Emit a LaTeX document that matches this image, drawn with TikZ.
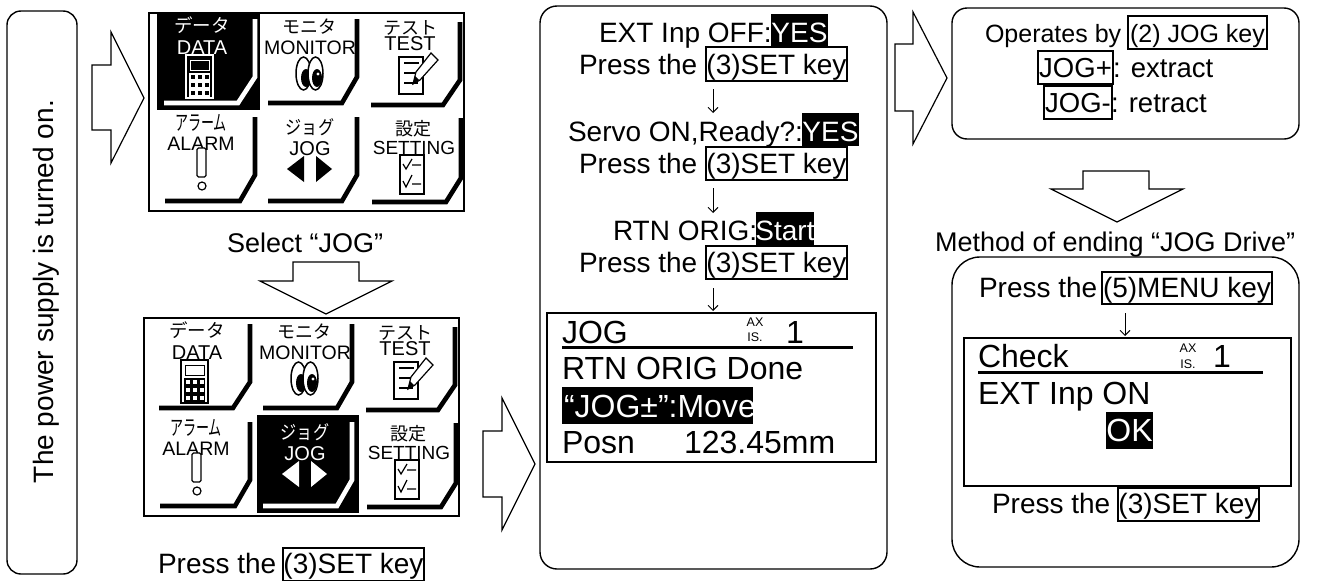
\documentclass[tikz,border=0pt]{standalone}
\usepackage{fontspec}
\setmainfont{Liberation Sans}
\newfontfamily\cjk{Noto Sans CJK JP}
\usetikzlibrary{arrows.meta}
\tikzset{
  fs/.style={font=\fontsize{#1}{#1}\selectfont},
  txt/.style={inner sep=0pt,outer sep=0pt,anchor=base west,fs=28},
  ctxt/.style={inner sep=0pt,outer sep=0pt,anchor=base,fs=#1},
  keyrect/.style={draw=black,line width=1.6pt,inner sep=0pt,outer sep=0pt,anchor=north west},
  invrect/.style={fill=black,inner sep=0pt,outer sep=0pt,anchor=north west},
  roundbox/.style={draw=black,line width=1.4pt,fill=white},
  screenbox/.style={draw=black,line width=1.6pt,fill=white},
  blockarrow/.style={draw=black,line width=1.2pt,fill=white,line join=miter},
  flowarrow/.style={draw=black,line width=0.9pt,-{Straight Barb[length=5pt,width=10pt]}},
  rule/.style={draw=black,line width=3pt},
  panelbox/.style={draw=black,line width=1.5pt,fill=white},
  cellframe/.style={draw=icfg,line width=4.6pt,line join=miter},
  icon/.style={draw=icfg,line width=1.2pt,fill=icbg},
}
% key caption: rectangle plus centred text
\newcommand\keyb[8][28]{%
  \pgfmathsetmacro\kbw{#5-#3}\pgfmathsetmacro\kbh{#6-#4}\pgfmathsetmacro\kbc{(#3+#5)/2}%
  \node[keyrect,minimum width=\kbw pt,minimum height=\kbh pt] (#2) at (#3,#4) {};%
  \node[ctxt=#1] (#2-t) at (\kbc,#7) {#8};}
\newcommand\invb[8][28]{%
  \pgfmathsetmacro\kbw{#5-#3}\pgfmathsetmacro\kbh{#6-#4}\pgfmathsetmacro\kbc{(#3+#5)/2}%
  \node[invrect,minimum width=\kbw pt,minimum height=\kbh pt] (#2) at (#3,#4) {};%
  \node[ctxt=#1,text=white] (#2-t) at (\kbc,#7) {#8};}
\newcommand\cellcol[2]{\ifnum#1=#2\relax\colorlet{icfg}{white}\colorlet{icbg}{black}\else\colorlet{icfg}{black}\colorlet{icbg}{white}\fi}
% #1 name prefix, #2 selected cell, #3 x shift, #4 y shift
\newcommand\iconpanel[4]{%
\begin{scope}[shift={(#3,#4)}]
  \draw[panelbox] (149,13) rectangle (464,211);
  % DATA
  \begin{scope}\cellcol{1}{#2}
    \ifnum#2=1\relax\fill[black] (157,13) rectangle (260,110);\fi
    \draw[cellframe] (164,103) -- (238,103) -- (255,77) -- (255,19);
    \node[ctxt=18.5,text=icfg] (#1-a1) at (202,32) {\cjk データ};
    \node[ctxt=20,text=icfg] (#1-a2) at (202,54) {DATA};
    \draw[icon] (186,55) rectangle (213,98);
    \draw[icon,line width=1pt] (190,60) rectangle (209,70);
    \fill[icfg] (189,73) rectangle (210,97);
    \foreach \cx in {192.5,199.5,206.5}{\foreach \cy in {77,85,93}{
      \fill[icbg] (\cx-2,\cy-2) rectangle (\cx+2,\cy+2);}}
  \end{scope}
  % MONITOR
  \begin{scope}\cellcol{2}{#2}
    \draw[cellframe] (268,103) -- (342,103) -- (357,77) -- (357,19);
    \node[ctxt=18,text=icfg] (#1-b1) at (309,33) {\cjk モニタ};
    \node[ctxt=19.5,text=icfg] (#1-b2) at (310,54) {MONITOR};
    \draw[icon,line width=1.5pt] (303.5,73.5) ellipse [x radius=7.5,y radius=16.5];
    \fill[icfg] (306,78) ellipse [x radius=5,y radius=9];
    \draw[icon,line width=1.5pt] (315.5,73.5) ellipse [x radius=7.5,y radius=16.5];
    \fill[icfg] (317,78) ellipse [x radius=5,y radius=9];
    \fill[icbg] (318,74) circle [radius=1.6pt];
  \end{scope}
  % TEST
  \begin{scope}\cellcol{3}{#2}
    \draw[cellframe] (371,105) -- (443,105) -- (460,80) -- (460,22);
    \node[ctxt=18,text=icfg] (#1-c1) at (410,34) {\cjk テスト};
    \node[ctxt=20,text=icfg] (#1-c2) at (410,50) {TEST};
    \draw[icon] (399,57) rectangle (423,94);
    \draw[icfg,line width=1.2pt] (404,63) -- (419,63) (404,73) -- (420,73) (404,83) -- (418,83);
    \draw[icon] (431,53) -- (438,60) -- (420,80) -- (413,84) -- (416,72) -- cycle;
    \fill[icfg] (413,84) -- (415,76) -- (419,80) -- cycle;
  \end{scope}
  % ALARM
  \begin{scope}\cellcol{4}{#2}
    \draw[cellframe] (165,201) -- (240,201) -- (255,175) -- (255,117);
    \node[ctxt=21,text=icfg,xscale=.62,transform shape] (#1-d1) at (201,130) {\cjk アラーム};
    \node[ctxt=19.5,text=icfg] (#1-d2) at (201,150) {ALARM};
    \draw[icon,rounded corners=1.5pt] (197,148) rectangle (206,177);
    \draw[icon] (202,186) circle [radius=4pt];
  \end{scope}
  % JOG
  \begin{scope}\cellcol{5}{#2}
    \ifnum#2=5\relax\fill[black] (262,110) rectangle (364,208);\fi
    \draw[cellframe] (268,201) -- (342,201) -- (357,175) -- (357,117);
    \node[ctxt=19,text=icfg,xscale=.85,transform shape] (#1-e1) at (310,134) {\cjk ジョグ};
    \node[ctxt=20,text=icfg] (#1-e2) at (310,155) {JOG};
    \fill[icfg] (287,169) -- (304,156) -- (304,182) -- cycle;
    \fill[icfg] (332,169) -- (316,156) -- (316,182) -- cycle;
  \end{scope}
  % SETTING
  \begin{scope}\cellcol{6}{#2}
    \draw[cellframe] (372,202) -- (446,202) -- (461,178) -- (461,118);
    \node[ctxt=18,text=icfg] (#1-f1) at (413,135) {\cjk 設定};
    \node[ctxt=19,text=icfg] (#1-f2) at (414,154) {SETTING};
    \draw[icon] (400,155) rectangle (424,194);
    \draw[icfg,line width=1.2pt] (403,164) -- (406,169) -- (412,159) (412,165) -- (421,165);
    \draw[icfg,line width=1.2pt] (403,181) -- (406,187) -- (412,175) (412,184) -- (421,184);
  \end{scope}
\end{scope}}
\begin{document}
\begin{tikzpicture}[x=1pt,y=-1pt]
\useasboundingbox (0,0) rectangle (1320,581);
\fill[white] (0,0) rectangle (1320,581);
% left box
\draw[roundbox,rounded corners=14pt] (7,11) rectangle (77,574);
\node[txt,fs=28,rotate=90] (power) at (53,483) {The power supply is turned on.};
% block arrows
\draw[blockarrow] (92,65) -- (111,65) -- (111,32) -- (144,98) -- (111,163) -- (111,130) -- (92,130) -- cycle;
\draw[blockarrow] (483,431) -- (502,431) -- (502,398) -- (535,464) -- (502,530) -- (502,497) -- (483,497) -- cycle;
\draw[blockarrow] (895,44) -- (913,44) -- (913,12) -- (947,78) -- (913,144) -- (913,111) -- (895,111) -- cycle;
\draw[blockarrow] (293,262) -- (359,262) -- (359,281) -- (392,281) -- (326,314) -- (260,281) -- (293,281) -- cycle;
\draw[blockarrow] (1083,171) -- (1149,171) -- (1149,189) -- (1183,189) -- (1117,222) -- (1051,189) -- (1083,189) -- cycle;
% icon panels
\iconpanel{pa}{1}{0}{0}
\iconpanel{pb}{5}{-5}{305}
\node[txt,fs=27] (select) at (227,252) {Select “JOG”};
\node[txt] (press0) at (158,573) {Press the};
\keyb{k0}{283}{548}{424}{581}{573}{(3)SET key}
% middle box
\draw[roundbox,rounded corners=17pt] (540,6) rectangle (887,569);
\node[txt] (l1) at (599,42) {EXT Inp OFF:};
\invb{y1}{771}{14}{828}{47}{42}{YES}
\node[txt] (p1) at (579,74) {Press the};
\keyb{k1}{706}{47}{847}{81}{74}{(3)SET key}
\node[txt] (l2) at (568,141) {Servo ON,Ready?:};
\invb{y2}{802}{113}{859}{146}{141}{YES}
\node[txt] (p2) at (579,173) {Press the};
\keyb{k2}{706}{147}{847}{180}{173}{(3)SET key}
\node[txt] (l3) at (613,240) {RTN ORIG:};
\invb{y3}{756}{212}{814}{245}{240}{Start}
\node[txt] (p3) at (579,272) {Press the};
\keyb{k3}{706}{246}{847}{279}{272}{(3)SET key}
\coordinate (a1s) at (713,89); \coordinate (a1e) at (713,113);
\coordinate (a2s) at (713,188); \coordinate (a2e) at (713,213);
\coordinate (a3s) at (713,288); \coordinate (a3e) at (713,311);
\draw[flowarrow] (a1s) -- (a1e);
\draw[flowarrow] (a2s) -- (a2e);
\draw[flowarrow] (a3s) -- (a3e);
% JOG screen
\draw[screenbox] (547,313) rectangle (876,462);
\node[txt,fs=32] (s1) at (562,343) {JOG};
\node[ctxt=12.5] (ax1) at (755,326) {AX};
\node[ctxt=12.5] (is1) at (755,341) {IS.};
\node[ctxt=32] (n1) at (795,343) {1};
\draw[rule] (562,347) -- (853,347);
\node[txt,fs=32] (s2) at (562,379) {RTN ORIG Done};
\fill[black] (562,387) rectangle (753,424);
\node[txt,fs=32,text=white] (s3) at (564,417) {“JOG±”:Move};
\node[txt,fs=32] (s4a) at (562,453) {Posn};
\node[txt,fs=32] (s4b) at (684,453) {123.45mm};
% top right box
\draw[roundbox,rounded corners=15pt] (952,8) rectangle (1299,139);
\node[txt,fs=25] (op) at (985,42) {Operates by};
\keyb[25]{k4}{1128}{16}{1267}{49}{42}{(2) JOG key}
\keyb[27.5]{k5}{1038}{51}{1113}{84}{77}{JOG+}
\node[txt,fs=27.5] (ex) at (1113,77) {: extract};
\keyb[27.5]{k6}{1044}{86}{1112}{119}{112}{JOG-}
\node[txt,fs=27.5] (re) at (1111,112) {: retract};
\node[txt,fs=27] (method) at (935,251) {Method of ending “JOG Drive”};
% bottom right box
\draw[roundbox,rounded corners=28pt] (952,257) rectangle (1299,567);
\node[txt] (p4) at (979,297) {Press the};
\keyb{k7}{1102}{272}{1272}{304}{297}{(5)MENU key}
\coordinate (a4s) at (1125,313); \coordinate (a4e) at (1125,336);
\draw[flowarrow] (a4s) -- (a4e);
\draw[screenbox] (964,338) rectangle (1291,486);
\node[txt,fs=32] (c1) at (978,367) {Check};
\node[ctxt=12.5] (ax2) at (1188,352) {AX};
\node[ctxt=12.5] (is2) at (1188,368) {IS.};
\node[ctxt=32] (n2) at (1222,367) {1};
\draw[rule] (978,372) -- (1263,372);
\node[txt,fs=32] (c2) at (978,404) {EXT Inp ON};
\invb[32]{ok}{1106}{412}{1153}{449}{441}{OK}
\node[txt] (p5) at (992,513) {Press the};
\keyb{k8}{1118}{488}{1259}{521}{513}{(3)SET key}
\end{tikzpicture}
\end{document}
